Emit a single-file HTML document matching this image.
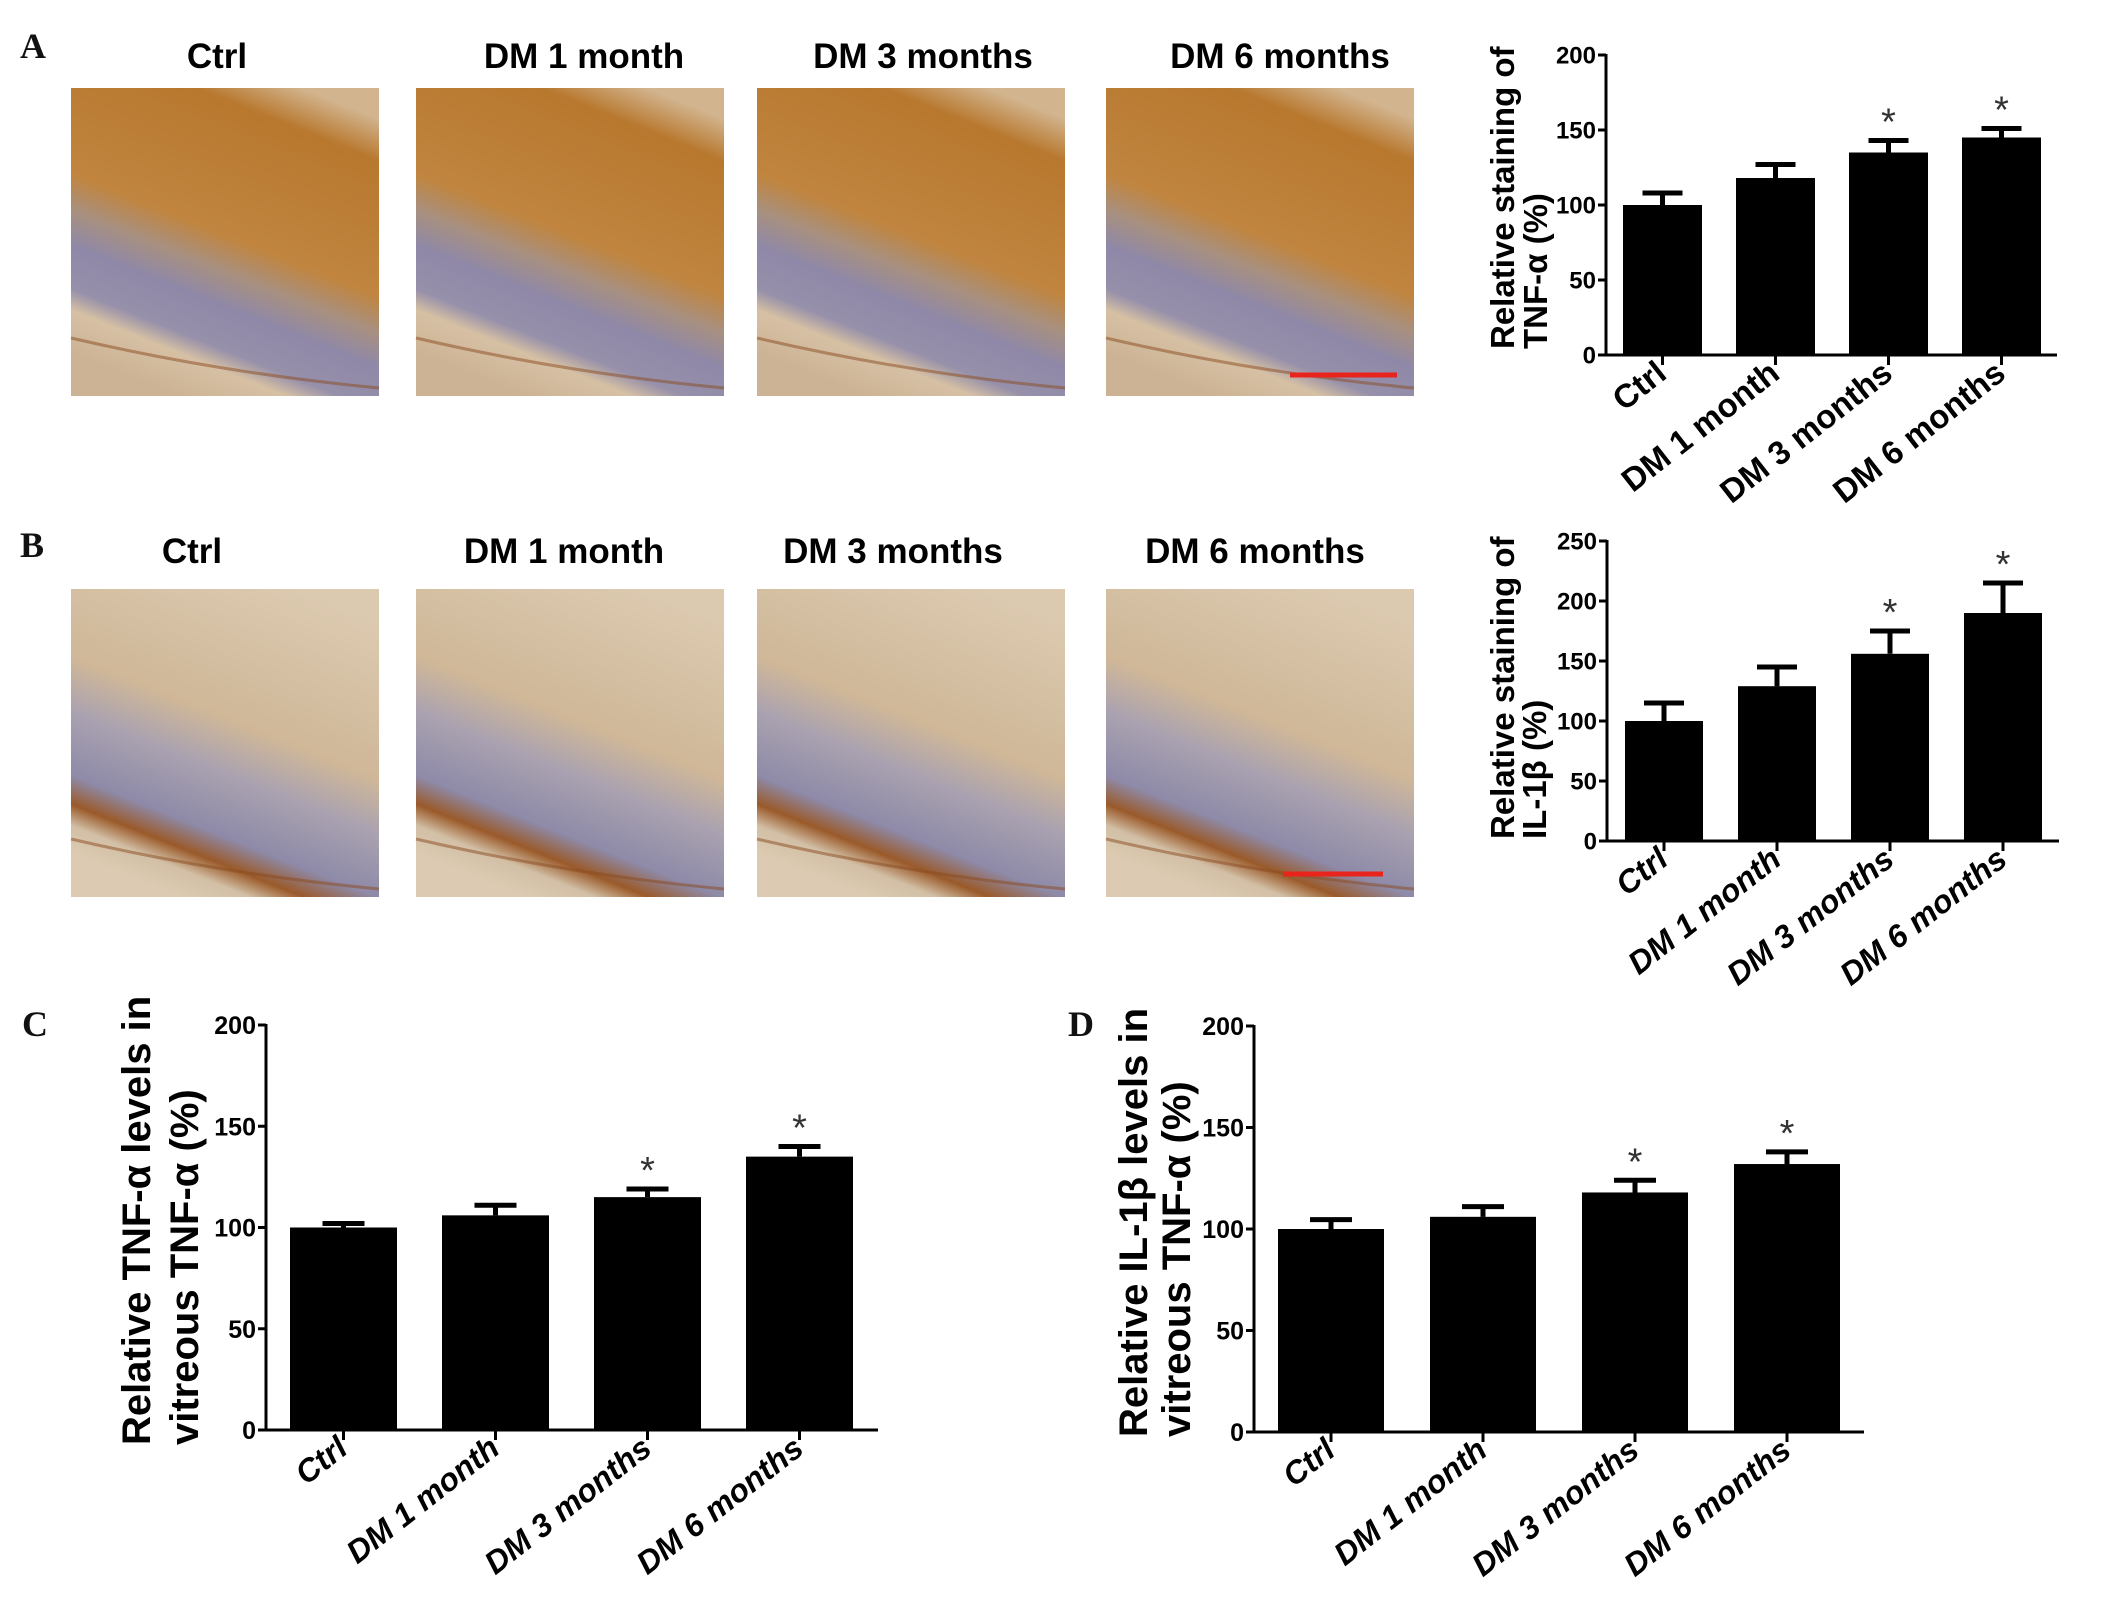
<!DOCTYPE html>
<html><head><meta charset="utf-8"><style>
html,body{margin:0;padding:0;background:#fff;}
svg{display:block;}
.t{font-family:"Liberation Sans",Arial,sans-serif;font-weight:bold;fill:#000;}
.pl{font-family:"Liberation Serif",serif;font-weight:bold;font-size:36px;fill:#111;}
</style></head><body>
<svg id="fig" width="2126" height="1606" viewBox="0 0 2126 1606" xmlns="http://www.w3.org/2000/svg">
<defs>
<linearGradient id="gA" x1="0.75" y1="0" x2="0.35" y2="1">
<stop offset="0" stop-color="#d2b48e"/><stop offset="0.12" stop-color="#b8782e"/><stop offset="0.5" stop-color="#c08540"/><stop offset="0.6" stop-color="#a89080"/><stop offset="0.7" stop-color="#8f88a8"/><stop offset="0.82" stop-color="#9690aa"/><stop offset="0.88" stop-color="#d6c0a4"/><stop offset="1" stop-color="#cdb395"/>
</linearGradient>
<linearGradient id="gB" x1="0.75" y1="0" x2="0.35" y2="1">
<stop offset="0" stop-color="#dccab0"/><stop offset="0.45" stop-color="#cfb798"/><stop offset="0.6" stop-color="#aaa2b0"/><stop offset="0.78" stop-color="#8e8aa8"/><stop offset="0.86" stop-color="#9a5a2a"/><stop offset="0.92" stop-color="#d2bfa5"/><stop offset="1" stop-color="#dccbb2"/>
</linearGradient>
</defs>
<text class="pl" x="20" y="58">A</text>
<text class="pl" x="20" y="557">B</text>
<text class="pl" x="22" y="1036">C</text>
<text class="pl" x="1068" y="1036">D</text>
<g id="photos"></g>
<g id="charts"></g>
</svg>
<script>
const NS="http://www.w3.org/2000/svg";
const svg=document.getElementById('fig');
function mk(tag,attrs,parent){const e=document.createElementNS(NS,tag);for(const k in attrs)e.setAttribute(k,attrs[k]);(parent||svg).appendChild(e);return e;}

// ---- photo panels ----
const photoTitles=["Ctrl","DM 1 month","DM 3 months","DM 6 months"];
const photoX=[71,416,757,1106];
const photoTitleX=[217,584,923,1280];
const photoTitleXB=[192,564,893,1255];
const pg=document.getElementById('photos');
[["a",88,"url(#gA)",68,photoTitleX],["b",589,"url(#gB)",563,photoTitleXB]].forEach(function(r){
  for(let i=0;i<4;i++){
    const g=mk('g',{},pg);
    
    
    mk('rect',{x:photoX[i],y:r[1],width:308,height:308,fill:r[2]},g);
    mk('path',{d:`M${photoX[i]} ${r[1]+250} Q${photoX[i]+150} ${r[1]+285} ${photoX[i]+308} ${r[1]+300}`,stroke:"#8a4a1e","stroke-width":3,fill:"none",opacity:0.5},g);
    const tt=mk('text',{x:r[4][i],y:r[3],'text-anchor':'middle','font-size':35,class:'t'},pg);
    tt.textContent=photoTitles[i];
    
    
  }
});
const sbA=mk('line',{x1:1290,y1:375,x2:1397,y2:375,stroke:"#e8241c","stroke-width":5},pg);


const sbB=mk('line',{x1:1283,y1:874,x2:1383,y2:874,stroke:"#e8241c","stroke-width":5},pg);



// ---- chart data ----
const categories=["Ctrl","DM 1 month","DM 3 months","DM 6 months"];
const valuesA=[100,118,135,145];
const errorsA=[108,127,143,151];
const sigA=[false,false,true,true];
const valuesB=[100,129,156,190];
const errorsB=[115,145,175,215];
const sigB=[false,false,true,true];
const valuesC=[100,106,115,135];
const errorsC=[102,111,119,140];
const sigC=[false,false,true,true];
const valuesD=[100,106,118,132];
const errorsD=[104.6,111,124,138];
const sigD=[false,false,true,true];
const ticksA=[0,50,100,150,200];
const ticksB=[0,50,100,150,200,250];
const ticksC=[0,50,100,150,200];
const ticksD=[0,50,100,150,200];

const charts=[
 {id:'a',vals:valuesA,errs:errorsA,sig:sigA,ticks:ticksA,max:200,ax:1606,y0:355,yTop:55,xEnd:2057,b0:1623,step:113,bw:79,cap:40,tf:24,lf:33,italic:false,title:["Relative staining of","TNF-α (%)"],tx:[1514,1547],tfs:33,tyEnd:349},
 {id:'b',vals:valuesB,errs:errorsB,sig:sigB,ticks:ticksB,max:250,ax:1607,y0:841,yTop:541,xEnd:2059,b0:1625,step:113,bw:78,cap:40,tf:24,lf:32,italic:true,title:["Relative staining of","IL-1β (%)"],tx:[1514,1546],tfs:33,tyEnd:839},
 {id:'c',vals:valuesC,errs:errorsC,sig:sigC,ticks:ticksC,max:200,ax:266,y0:1430,yTop:1025,xEnd:878,b0:290,step:152,bw:107,cap:42,tf:25,lf:32,italic:true,title:["Relative TNF-α levels in","vitreous TNF-α (%)"],tx:[150,198],tfs:40,tyEnd:1445},
 {id:'d',vals:valuesD,errs:errorsD,sig:sigD,ticks:ticksD,max:200,ax:1254,y0:1432,yTop:1026,xEnd:1864,b0:1278,step:152,bw:106,cap:42,tf:25,lf:32,italic:true,title:["Relative IL-1β levels in","vitreous TNF-α (%)"],tx:[1147,1190],tfs:40,tyEnd:1437}
];
const cg=document.getElementById('charts');
charts.forEach(function(c){
  const g=mk('g',{},cg);
  
  
  const y=v=>c.y0-(v/c.max)*(c.y0-c.yTop);
  const xc=i=>c.b0+i*c.step+c.bw/2;
  c.vals.forEach(function(v,i){
    const r=mk('rect',{x:c.b0+i*c.step,y:y(v),width:c.bw,height:c.y0-y(v),fill:"#000"},g);
    
    
    const e=mk('path',{d:`M${xc(i)} ${y(v)} V${y(c.errs[i])} M${xc(i)-c.cap/2} ${y(c.errs[i])} H${xc(i)+c.cap/2}`,stroke:"#000","stroke-width":5,fill:"none"},g);
    
    
    if(c.sig[i]){
      const s=mk('text',{x:xc(i),y:y(c.errs[i])-6,'text-anchor':'middle','font-size':38,fill:"#333",'font-family':'Liberation Sans, sans-serif'},g);
      s.textContent='*';
      
      
    }
    const lx=xc(i)+6,ly=c.y0+22;
    const l=mk('text',{x:lx,y:ly,'text-anchor':'end','font-size':c.lf,class:'t',transform:`rotate(-38 ${lx} ${ly})`,'font-style':c.italic?'italic':'normal'},g);
    l.textContent=categories[i];
    
    
    mk('line',{x1:xc(i),y1:c.y0,x2:xc(i),y2:c.y0+10,stroke:"#000","stroke-width":3},g);
  });
  const ya=mk('line',{x1:c.ax,y1:c.yTop-1,x2:c.ax,y2:c.y0+1,stroke:"#000","stroke-width":3},g);
  
  
  const xa=mk('line',{x1:c.ax,y1:c.y0,x2:c.xEnd,y2:c.y0,stroke:"#000","stroke-width":3},g);
  
  
  c.ticks.forEach(function(t){
    mk('line',{x1:c.ax-8,y1:y(t),x2:c.ax,y2:y(t),stroke:"#000","stroke-width":3},g);
    const tl=mk('text',{x:c.ax-10,y:y(t)+c.tf*0.36,'text-anchor':'end','font-size':c.tf,class:'t'},g);
    tl.textContent=t;
    
    
  });
  c.title.forEach(function(line,k){
    const tx=c.tx[k];
    const tt=mk('text',{x:tx,y:c.tyEnd,'font-size':c.tfs,class:'t',transform:`rotate(-90 ${tx} ${c.tyEnd})`},g);
    tt.textContent=line;
    
    
  });
});
</script>
</body></html>
